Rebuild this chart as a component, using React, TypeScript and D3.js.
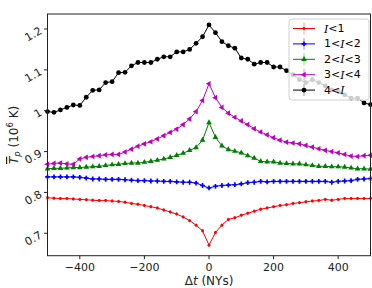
import React from "react";
import * as d3 from "d3";

const dt = [-500,-480,-460,-440,-420,-400,-380,-360,-340,-320,-300,-280,-260,-240,-220,-200,-180,-160,-140,-120,-100,-80,-60,-40,-20,0,20,40,60,80,100,120,140,160,180,200,220,240,260,280,300,320,340,360,380,400,420,440,460,480,500];

const redVals = [0.787,0.786,0.785,0.785,0.784,0.783,0.782,0.781,0.780,0.780,0.779,0.778,0.776,0.773,0.771,0.768,0.765,0.762,0.757,0.752,0.747,0.740,0.731,0.720,0.706,0.671,
  0.702,0.720,0.734,0.738,0.744,0.749,0.754,0.759,0.762,0.765,0.768,0.770,0.773,0.775,0.777,0.779,0.780,0.783,0.781,0.783,0.785,0.785,0.785,0.785,0.785];
const blueVals = [0.838,0.838,0.838,0.838,0.838,0.837,0.835,0.833,0.833,0.832,0.832,0.832,0.831,0.830,0.829,0.829,0.828,0.828,0.827,0.827,0.826,0.825,0.825,0.823,0.817,0.811,
  0.815,0.817,0.818,0.819,0.821,0.824,0.825,0.827,0.826,0.827,0.827,0.827,0.827,0.827,0.827,0.827,0.827,0.827,0.825,0.827,0.828,0.829,0.832,0.833,0.834];
const greenVals = [0.858,0.859,0.859,0.860,0.861,0.861,0.862,0.863,0.864,0.866,0.868,0.869,0.871,0.872,0.872,0.874,0.876,0.879,0.882,0.886,0.891,0.896,0.903,0.910,0.928,0.971,
  0.935,0.914,0.905,0.901,0.897,0.890,0.884,0.876,0.875,0.875,0.872,0.871,0.870,0.870,0.868,0.866,0.864,0.864,0.863,0.863,0.862,0.860,0.858,0.858,0.857];
const magentaVals = [0.869,0.871,0.872,0.870,0.869,0.882,0.886,0.888,0.890,0.892,0.893,0.893,0.899,0.906,0.913,0.919,0.924,0.931,0.939,0.947,0.955,0.966,0.980,0.998,1.025,1.066,
  1.032,1.008,0.994,0.984,0.975,0.966,0.956,0.948,0.941,0.934,0.928,0.923,0.921,0.919,0.915,0.911,0.907,0.903,0.900,0.897,0.893,0.889,0.888,0.890,0.891];
const blackVals = [0.998,0.996,1.002,1.008,1.014,1.013,1.033,1.050,1.051,1.069,1.071,1.093,1.094,1.110,1.118,1.118,1.118,1.126,1.132,1.132,1.144,1.144,1.150,1.165,1.181,1.210,
  1.191,1.169,1.159,1.153,1.129,1.126,1.114,1.118,1.118,1.107,1.107,1.098,1.088,1.076,1.069,1.076,1.069,1.061,1.051,1.047,1.039,1.031,1.031,1.019,1.015];

const errBar = 0.004;

const xTicks = [-400, -200, 0, 200, 400];
const yTicks = [0.7, 0.8, 0.9, 1.0, 1.1, 1.2];
const yTickLabels = ["0.7", "0.8", "0.9", "1", "1.1", "1.2"];

const legendLabels: [string, string, string][] = [
  ["", "I", "<1"],
  ["1<", "I", "<2"],
  ["2<", "I", "<3"],
  ["3<", "I", "<4"],
  ["4<", "I", ""],
];

const series = [
  { vals: redVals, color: "#ff0000", marker: "dot" },
  { vals: blueVals, color: "#0000ff", marker: "plus" },
  { vals: greenVals, color: "#008000", marker: "tri" },
  { vals: magentaVals, color: "#bf00bf", marker: "triLeft" },
  { vals: blackVals, color: "#000000", marker: "circle" },
];

const W = 372, H = 288;
const L = 47.5, R = 370.5, T = 14, B = 255.7;

function markerPath(kind: string): { d: string; rot: number } {
  if (kind === "dot") return { d: d3.symbol(d3.symbolCircle, 7)()!, rot: 0 };
  if (kind === "plus") return { d: d3.symbol(d3.symbolCross, 13)()!, rot: 0 };
  if (kind === "tri") return { d: d3.symbol(d3.symbolTriangle, 14)()!, rot: 0 };
  if (kind === "triLeft") return { d: d3.symbol(d3.symbolTriangle, 14)()!, rot: -90 };
  return { d: d3.symbol(d3.symbolCircle, 18)()!, rot: 0 };
}

export default function App() {
  const x = d3.scaleLinear().domain([-500, 500]).range([L, R]);
  const y = d3.scaleLinear().domain([0.6452, 1.2367]).range([B, T]);
  const line = d3.line<number>().x((_, i) => x(dt[i])).y((v) => y(v));
  const font = "DejaVu Sans, sans-serif";

  const legX = 289, legY = 19, legW = 80, legH = 81;
  const legRowY = (i: number) => 28.5 + i * 15.4;

  return (
    <svg width={W} height={H} style={{ position: "absolute", left: 0, top: 0, background: "#fff" }} fontFamily={font}>
      <rect x={0} y={0} width={W} height={H} fill="#fff" />
      {series.map((s, si) => {
        const m = markerPath(s.marker);
        return (
          <g key={si}>
            <path d={line(s.vals) || ""} fill="none" stroke={s.color} strokeWidth={1} />
            {s.vals.map((v, i) => (
              <line key={"e" + i} x1={x(dt[i])} x2={x(dt[i])} y1={y(v - errBar)} y2={y(v + errBar)} stroke={s.color} strokeWidth={1} opacity={0.6} />
            ))}
            {s.vals.map((v, i) => (
              <path key={"m" + i} d={m.d} transform={`translate(${x(dt[i])},${y(v)}) rotate(${m.rot})`} fill={s.color} />
            ))}
          </g>
        );
      })}

      {/* legend */}
      <rect x={legX} y={legY} width={legW} height={legH} rx={3} fill="#fff" fillOpacity={0.8} stroke="#d0d0d0" strokeWidth={1} />
      {series.map((s, i) => {
        const m = markerPath(s.marker);
        const ly = legRowY(i);
        return (
          <g key={"l" + i}>
            <line x1={293} x2={315} y1={ly} y2={ly} stroke={s.color} strokeWidth={1} />
            <line x1={304} x2={304} y1={ly - 6} y2={ly + 6} stroke={s.color} strokeWidth={1} opacity={0.4} />
            <path d={m.d} transform={`translate(304,${ly}) rotate(${m.rot})`} fill={s.color} />
            <text x={324} y={ly} fontSize={11} dominantBaseline="central" fill="#000">
              {legendLabels[i][0]}
              <tspan fontStyle="italic" fontFamily="DejaVu Serif, serif">{legendLabels[i][1]}</tspan>
              {legendLabels[i][2]}
            </text>
          </g>
        );
      })}

      {/* axes frame */}
      <rect x={L} y={T} width={R - L} height={B - T} fill="none" stroke="#222" strokeWidth={1} />

      {/* x ticks */}
      {xTicks.map((t) => (
        <g key={"xt" + t}>
          <line x1={x(t)} x2={x(t)} y1={B} y2={B + 3.5} stroke="#222" strokeWidth={1} />
          <text x={x(t)} y={270.5} fontSize={11} textAnchor="middle" fill="#222">
            {t < 0 ? "\u2212" + Math.abs(t) : String(t)}
          </text>
        </g>
      ))}
      <text x={(L + R) / 2} y={285} fontSize={12} textAnchor="middle" fill="#222">
        Δ<tspan fontStyle="italic">t</tspan> (NYs)
      </text>

      {/* y ticks */}
      {yTicks.map((t, i) => (
        <g key={"yt" + t}>
          <line x1={L - 3.5} x2={L} y1={y(t)} y2={y(t)} stroke="#222" strokeWidth={1} />
          <text x={41} y={y(t) + 1} fontSize={11} textAnchor="end" dominantBaseline="central" fill="#222"
            transform={`rotate(-30, 41, ${y(t) + 1})`}>
            {yTickLabels[i]}
          </text>
        </g>
      ))}
      <g transform={`translate(14, ${(T + B) / 2}) rotate(-90)`}>
        <text x={0} y={0} fontSize={12} textAnchor="middle" dominantBaseline="central" fill="#222">
          <tspan fontStyle="italic" textDecoration="overline">T</tspan>
          <tspan fontStyle="italic" fontSize={8.5} dy={3}>p</tspan>
          <tspan dy={-3}> (10</tspan>
          <tspan fontSize={8.5} dy={-4.5}>6</tspan>
          <tspan dy={4.5}> K)</tspan>
        </text>
      </g>
    </svg>
  );
}
